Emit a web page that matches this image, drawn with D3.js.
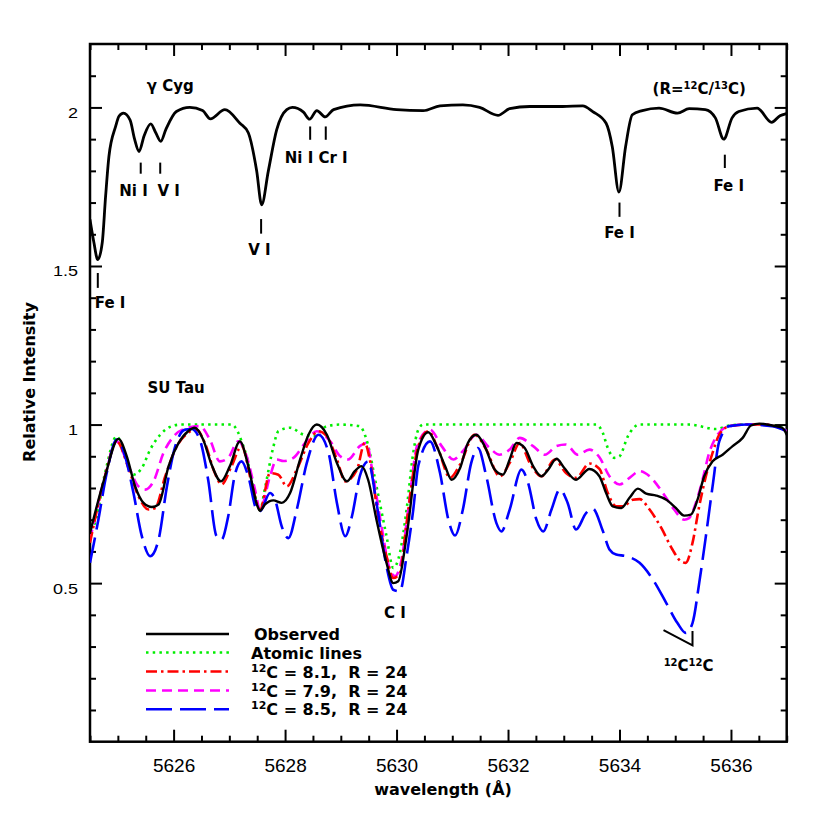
<html>
<head>
<meta charset="utf-8">
<title>gamma Cyg / SU Tau spectra</title>
<script src="https://cdn.jsdelivr.net/npm/d3@7"></script>
<style>
  body { margin: 0; background: #fff; }
  .tick line { stroke: #000; stroke-width: 2; }
  .lbl { font-family: "DejaVu Sans", sans-serif; font-weight: bold; font-size: 15px; white-space: pre; }
  .leg { font-family: "DejaVu Sans", sans-serif; font-weight: bold; font-size: 16px; white-space: pre; }
  .num { font-family: "Liberation Sans", Arial, sans-serif; }
</style>
</head>
<body>
<svg width="830" height="830"></svg>
<script>
// gamma Cyg, normalised flux (plotted with +1 offset)
var cygWave = [5624.50,5624.57,5624.64,5624.72,5624.78,5624.84,5624.96,5625.02,5625.10,5625.22,5625.30,5625.38,5625.47,5625.59,5625.68,5625.77,5625.86,5626.05,5626.29,5626.52,5626.66,5626.92,5627.19,5627.34,5627.49,5627.58,5627.70,5627.85,5628.03,5628.13,5628.33,5628.44,5628.57,5628.72,5628.87,5629.35,5630.00,5630.48,5630.78,5631.19,5631.49,5631.82,5632.03,5632.39,5632.98,5633.34,5633.52,5633.76,5633.87,5633.99,5634.11,5634.23,5634.41,5634.71,5635.04,5635.25,5635.54,5635.72,5635.87,5636.02,5636.14,5636.47,5636.73,5636.88,5636.98];
var cygFlux = [0.646,0.574,0.52,0.574,0.72,0.846,0.94,0.972,0.982,0.96,0.90,0.861,0.91,0.948,0.92,0.893,0.93,0.987,1.0,0.99,0.964,0.993,0.95,0.92,0.80,0.693,0.80,0.93,0.993,1.0,0.985,0.963,0.99,0.97,0.993,1.008,0.993,0.99,1.005,1.008,1.0,0.975,0.996,1.003,1.003,1.005,0.987,0.95,0.877,0.733,0.877,0.977,0.99,0.998,0.982,0.996,0.993,0.967,0.90,0.967,0.987,0.998,0.953,0.974,0.98];
var cygOffset = 1;

// SU Tau observed
var obsWave = [5624.50,5624.77,5625.01,5625.16,5625.31,5625.46,5625.61,5625.73,5625.91,5626.09,5626.26,5626.38,5626.53,5626.68,5626.85,5627.01,5627.19,5627.34,5627.50,5627.55,5627.64,5627.79,5627.94,5628.09,5628.27,5628.42,5628.57,5628.75,5628.93,5629.11,5629.25,5629.37,5629.49,5629.64,5629.82,5629.94,5630.03,5630.18,5630.39,5630.57,5630.72,5630.87,5630.99,5631.14,5631.28,5631.43,5631.58,5631.76,5631.91,5632.03,5632.15,5632.30,5632.45,5632.60,5632.72,5632.87,5633.01,5633.22,5633.46,5633.64,5633.76,5633.88,5634.03,5634.18,5634.33,5634.48,5634.66,5634.84,5635.01,5635.16,5635.28,5635.40,5635.52,5635.67,5635.85,5636.03,5636.21,5636.36,5636.51,5636.74,5636.92,5637.00];
var obsFlux = [0.658,0.837,0.955,0.90,0.805,0.753,0.74,0.748,0.869,0.942,0.979,0.99,0.953,0.874,0.821,0.869,0.947,0.869,0.745,0.728,0.748,0.761,0.753,0.784,0.89,0.968,1.0,0.968,0.879,0.821,0.853,0.869,0.826,0.70,0.564,0.50,0.506,0.648,0.921,0.976,0.932,0.869,0.826,0.863,0.942,0.968,0.932,0.858,0.842,0.89,0.942,0.926,0.869,0.837,0.858,0.892,0.863,0.826,0.86,0.837,0.784,0.742,0.737,0.769,0.798,0.782,0.776,0.763,0.737,0.713,0.716,0.763,0.837,0.884,0.905,0.932,0.958,0.997,1.003,0.997,0.99,0.968];

// synthetic: atomic lines only
var atomWave = [5624.50,5624.59,5624.77,5624.98,5625.13,5625.28,5625.43,5625.58,5625.76,5625.97,5626.14,5627.04,5627.16,5627.22,5627.31,5627.43,5627.55,5627.64,5627.79,5627.88,5628.09,5628.33,5628.51,5628.75,5628.99,5629.34,5629.46,5629.64,5629.82,5629.94,5630.06,5630.18,5630.30,5630.39,5630.48,5633.58,5633.70,5633.79,5633.91,5634.00,5634.15,5634.36,5635.25,5635.73,5635.97,5636.27,5636.51,5636.74,5637.00];
var atomFlux = [0.669,0.69,0.847,0.963,0.90,0.842,0.863,0.921,0.968,0.995,1.0,1.0,0.974,0.947,0.90,0.80,0.73,0.80,0.93,0.979,0.99,0.968,0.963,0.995,1.0,0.995,0.953,0.805,0.648,0.548,0.595,0.732,0.911,0.984,1.0,1.0,0.974,0.926,0.895,0.90,0.963,1.0,1.0,0.986,0.997,1.0,1.0,0.997,0.985];

// synthetic: 12C = 8.1, R = 24
var c81Wave = [5624.50,5624.77,5624.98,5625.19,5625.37,5625.55,5625.67,5625.85,5626.06,5626.26,5626.41,5626.56,5626.74,5626.86,5627.04,5627.22,5627.40,5627.55,5627.73,5627.88,5628.03,5628.21,5628.42,5628.60,5628.75,5628.93,5629.08,5629.29,5629.43,5629.52,5629.67,5629.82,5629.94,5630.06,5630.18,5630.39,5630.57,5630.75,5630.96,5631.14,5631.40,5631.61,5631.85,5632.03,5632.21,5632.39,5632.60,5632.84,5633.04,5633.22,5633.46,5633.64,5633.79,5633.94,5634.06,5634.24,5634.36,5634.54,5634.75,5634.95,5635.10,5635.19,5635.31,5635.43,5635.55,5635.67,5635.79,5635.97,5636.27,5636.51,5636.74,5637.00];
var c81Flux = [0.627,0.837,0.947,0.863,0.774,0.732,0.737,0.837,0.932,0.974,0.984,0.942,0.847,0.811,0.869,0.932,0.816,0.732,0.847,0.842,0.805,0.858,0.942,0.979,0.963,0.89,0.821,0.858,0.942,0.89,0.711,0.585,0.516,0.532,0.69,0.932,0.979,0.921,0.832,0.874,0.968,0.921,0.837,0.879,0.942,0.879,0.837,0.89,0.847,0.832,0.877,0.86,0.784,0.742,0.742,0.763,0.765,0.732,0.674,0.606,0.569,0.564,0.627,0.742,0.837,0.911,0.968,0.995,1.0,1.0,0.997,0.98];

// synthetic: 12C = 7.9, R = 24
var c79Wave = [5624.50,5624.77,5624.98,5625.19,5625.37,5625.49,5625.64,5625.82,5626.03,5626.26,5626.47,5626.65,5626.83,5626.98,5627.16,5627.31,5627.46,5627.55,5627.73,5627.85,5627.97,5628.15,5628.36,5628.57,5628.81,5628.99,5629.13,5629.34,5629.46,5629.58,5629.73,5629.88,5629.97,5630.09,5630.21,5630.38,5630.60,5630.81,5631.02,5631.19,5631.43,5631.67,5631.85,5632.03,5632.21,5632.45,5632.66,5632.87,5633.04,5633.25,5633.46,5633.64,5633.82,5634.00,5634.18,5634.36,5634.54,5634.78,5634.98,5635.16,5635.25,5635.37,5635.49,5635.61,5635.76,5635.97,5636.27,5636.51,5636.74,5637.00];
var c79Flux = [0.637,0.837,0.947,0.869,0.805,0.795,0.821,0.911,0.968,0.99,0.995,0.953,0.884,0.895,0.947,0.90,0.795,0.732,0.837,0.89,0.885,0.895,0.942,0.979,0.947,0.90,0.89,0.932,0.942,0.837,0.679,0.543,0.522,0.574,0.732,0.94,0.984,0.932,0.89,0.916,0.968,0.926,0.905,0.921,0.958,0.932,0.905,0.932,0.937,0.905,0.921,0.897,0.837,0.811,0.832,0.853,0.837,0.784,0.732,0.70,0.705,0.753,0.826,0.911,0.968,0.995,1.0,1.0,0.997,0.98];

// synthetic: 12C = 8.5, R = 24
var c85Wave = [5624.50,5624.65,5624.80,5624.98,5625.13,5625.28,5625.43,5625.58,5625.73,5625.88,5626.03,5626.21,5626.32,5626.47,5626.62,5626.77,5626.86,5626.98,5627.10,5627.22,5627.34,5627.49,5627.55,5627.73,5627.82,5627.94,5628.06,5628.21,5628.39,5628.60,5628.78,5628.93,5629.08,5629.20,5629.34,5629.49,5629.64,5629.82,5629.94,5630.06,5630.18,5630.30,5630.39,5630.60,5630.78,5630.93,5631.05,5631.19,5631.34,5631.46,5631.61,5631.79,5631.88,5632.03,5632.24,5632.36,5632.51,5632.63,5632.78,5632.93,5633.07,5633.22,5633.40,5633.52,5633.70,5633.82,5633.94,5634.12,5634.36,5634.60,5634.84,5635.04,5635.19,5635.31,5635.43,5635.55,5635.67,5635.79,5635.97,5636.27,5636.74,5637.00];
var c85Flux = [0.564,0.70,0.847,0.953,0.90,0.784,0.648,0.585,0.637,0.805,0.932,0.984,0.986,0.953,0.826,0.648,0.637,0.711,0.842,0.884,0.837,0.732,0.727,0.784,0.763,0.679,0.642,0.732,0.879,0.968,0.911,0.753,0.648,0.711,0.837,0.884,0.753,0.553,0.479,0.474,0.585,0.732,0.87,0.947,0.847,0.70,0.65,0.732,0.879,0.926,0.837,0.69,0.663,0.732,0.858,0.816,0.70,0.663,0.732,0.795,0.753,0.669,0.721,0.735,0.665,0.606,0.59,0.585,0.564,0.511,0.437,0.374,0.343,0.374,0.50,0.648,0.805,0.947,0.995,1.0,0.995,0.979];

var xMajorTicks = [5626, 5628, 5630, 5632, 5634, 5636];
var yMajorTicks = [0.5, 1, 1.5, 2];
var yTickLabels = ["0.5", "1", "1.5", "2"];

var svg = d3.select("svg");
var pL = 90, pT = 44, pR = 786.7, pB = 741.7;

var x = d3.scaleLinear().domain([5624.5, 5637]).range([pL, pR]);
var y = d3.scaleLinear().domain([0, 2.2]).range([pB, pT]);

var xMinor = d3.range(5624.5, 5637.01, 0.5).filter(function(d){ return d % 2 !== 0; });
var yMinor = d3.range(1, 22).map(function(d){ return d / 10; }).filter(function(d){ return Math.abs(d * 2 - Math.round(d * 2)) > 1e-6; });

svg.append("clipPath").attr("id", "clip")
  .append("rect").attr("x", pL).attr("y", pT).attr("width", pR - pL).attr("height", pB - pT);

// axes, ticks inward on all four sides
function axisG(gen, tx, ty) {
  var g = svg.append("g").attr("transform", "translate(" + tx + "," + ty + ")").call(gen);
  g.select(".domain").remove();
  return g;
}
axisG(d3.axisBottom(x).tickValues(xMinor).tickSize(-6).tickFormat(""), 0, pB);
axisG(d3.axisTop(x).tickValues(xMinor).tickSize(-6).tickFormat(""), 0, pT);
axisG(d3.axisTop(x).tickValues(xMajorTicks).tickSize(-12).tickFormat(""), 0, pT);
var xb = axisG(d3.axisBottom(x).tickValues(xMajorTicks).tickSize(-12).tickPadding(16.5).tickFormat(d3.format("d")), 0, pB);
xb.selectAll("text").attr("class", "num").style("font-size", "19px").attr("fill", "#000");

axisG(d3.axisLeft(y).tickValues(yMinor).tickSize(-6).tickFormat(""), pL, 0);
axisG(d3.axisRight(y).tickValues(yMinor).tickSize(-6).tickFormat(""), pR, 0);
axisG(d3.axisRight(y).tickValues(yMajorTicks).tickSize(-12).tickFormat(""), pR, 0);
var yl = axisG(d3.axisLeft(y).tickValues(yMajorTicks).tickSize(-12)
  .tickFormat(function(d, i){ return yTickLabels[i]; }), pL, 0);
yl.selectAll("text").attr("class", "num").style("font-size", "18px").attr("fill", "#000")
  .attr("x", 0).attr("dy", null).attr("transform", "translate(-12,10) scale(1,0.8)");

svg.append("rect").attr("x", pL).attr("y", pT).attr("width", pR - pL).attr("height", pB - pT)
  .attr("fill", "none").attr("stroke", "#000").attr("stroke-width", 2.5);

// spectra
function series(wave, flux, off) {
  return wave.map(function(w, i){ return [w, flux[i] + (off || 0)]; });
}
var line = d3.line().x(function(d){ return x(d[0]); }).y(function(d){ return y(d[1]); })
  .curve(d3.curveMonotoneX);

var plot = svg.append("g").attr("clip-path", "url(#clip)");
var styles = [
  { data: series(atomWave, atomFlux), color: "#00ee00", dash: "2.5,4.2", width: 2.6, cap: "butt" },
  { data: series(c79Wave, c79Flux), color: "#ff00ff", dash: "10,6", width: 2.6, cap: "butt" },
  { data: series(c81Wave, c81Flux), color: "#ff0000", dash: "11,4,2.5,4", width: 2.6, cap: "butt" },
  { data: series(c85Wave, c85Flux), color: "#0000ff", dash: "26,8", width: 2.6, cap: "butt" },
  { data: series(obsWave, obsFlux), color: "#000000", dash: null, width: 2.4, cap: "round" },
  { data: series(cygWave, cygFlux, cygOffset), color: "#000000", dash: null, width: 2.8, cap: "round" }
];
styles.forEach(function(s){
  plot.append("path").attr("d", line(s.data)).attr("fill", "none")
    .attr("stroke", s.color).attr("stroke-width", s.width)
    .attr("stroke-dasharray", s.dash).attr("stroke-linecap", s.cap).attr("stroke-linejoin", "round");
});

// line identifications
var ids = [
  { t: "Fe I", w: 5624.64, a: 1.478, b: 1.431, tw: 5624.86, ty: 1.368 },
  { t: "Ni I", w: 5625.41, a: 1.826, b: 1.791, tw: 5625.28, ty: 1.72 },
  { t: "V I", w: 5625.76, a: 1.826, b: 1.791, tw: 5625.91, ty: 1.72 },
  { t: "V I", w: 5627.57, a: 1.648, b: 1.602, tw: 5627.54, ty: 1.536 },
  { t: "Ni I", w: 5628.45, a: 1.94, b: 1.898, tw: 5628.25, ty: 1.825 },
  { t: "Cr I", w: 5628.73, a: 1.94, b: 1.898, tw: 5628.86, ty: 1.825 },
  { t: "Fe I", w: 5634.00, a: 1.70, b: 1.655, tw: 5634.00, ty: 1.588 },
  { t: "Fe I", w: 5635.89, a: 1.851, b: 1.809, tw: 5635.96, ty: 1.735 }
];
ids.forEach(function(d){
  svg.append("line").attr("x1", x(d.w)).attr("x2", x(d.w)).attr("y1", y(d.a)).attr("y2", y(d.b))
    .attr("stroke", "#000").attr("stroke-width", 2);
  svg.append("text").attr("class", "lbl").attr("text-anchor", "middle")
    .attr("x", x(d.tw)).attr("y", y(d.ty)).text(d.t);
});

svg.append("text").attr("class", "lbl").attr("text-anchor", "middle")
  .attr("x", x(5625.94)).attr("y", y(2.053)).text("\u03b3 Cyg");

var rt = svg.append("text").attr("class", "lbl").attr("text-anchor", "middle")
  .attr("x", x(5635.43)).attr("y", y(2.043));
rt.append("tspan").text("(R=");
rt.append("tspan").attr("font-size", "10px").attr("dy", -5).text("12");
rt.append("tspan").attr("dy", 5).text("C/");
rt.append("tspan").attr("font-size", "10px").attr("dy", -5).text("13");
rt.append("tspan").attr("dy", 5).text("C)");

svg.append("text").attr("class", "lbl").attr("x", x(5625.53)).attr("y", y(1.10)).text("SU Tau");
svg.append("text").attr("class", "lbl").attr("text-anchor", "middle")
  .attr("x", x(5629.97)).attr("y", y(0.391)).text("C I");

var cc = svg.append("text").attr("class", "lbl").attr("text-anchor", "middle")
  .attr("x", x(5635.24)).attr("y", y(0.222));
cc.append("tspan").attr("font-size", "10px").attr("dy", -5).text("12");
cc.append("tspan").attr("dy", 5).text("C");
cc.append("tspan").attr("font-size", "10px").attr("dy", -5).text("12");
cc.append("tspan").attr("dy", 5).text("C");

svg.append("path")
  .attr("d", d3.line()([[x(5634.79), y(0.352)], [x(5635.31), y(0.304)], [x(5635.31), y(0.349)]]))
  .attr("fill", "none").attr("stroke", "#000").attr("stroke-width", 2);

// axis titles
svg.append("text").attr("class", "leg").attr("text-anchor", "middle")
  .attr("x", 443).attr("y", 795).text("wavelength (\u00c5)");
svg.append("text").attr("class", "leg").attr("text-anchor", "middle")
  .attr("transform", "translate(35,382) rotate(-90)").text("Relative Intensity");

// legend
var legendItems = [
  { label: ["", "Observed"], color: "#000000", dash: null },
  { label: ["", "Atomic lines"], color: "#00ee00", dash: "2.5,4.2" },
  { label: ["12", "C = 8.1,  R = 24"], color: "#ff0000", dash: "11,4,2.5,4" },
  { label: ["12", "C = 7.9,  R = 24"], color: "#ff00ff", dash: "10,6" },
  { label: ["12", "C = 8.5,  R = 24"], color: "#0000ff", dash: "26,8" }
];
var legY = [634, 652.5, 671.5, 690.5, 709.3];
legendItems.forEach(function(d, i){
  var yy = legY[i];
  svg.append("line").attr("x1", 146).attr("x2", 229).attr("y1", yy).attr("y2", yy)
    .attr("stroke", d.color).attr("stroke-width", 2.6).attr("stroke-dasharray", d.dash);
  var t = svg.append("text").attr("class", "leg").attr("x", i === 0 ? 254 : 251).attr("y", yy + 6);
  if (d.label[0]) {
    t.append("tspan").attr("font-size", "11px").attr("dy", -6).text(d.label[0]);
    t.append("tspan").attr("dy", 6).text(d.label[1]);
  } else {
    t.text(d.label[1]);
  }
});
</script>
</body>
</html>
